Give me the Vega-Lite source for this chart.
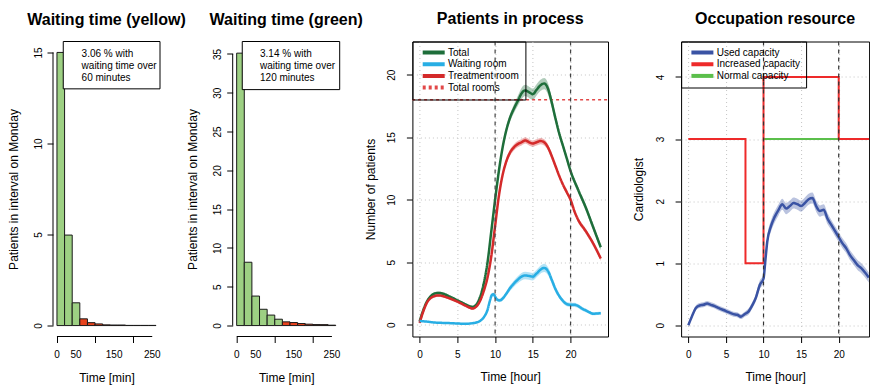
{
  "$schema": "https://vega.github.io/schema/vega-lite/v6.json",
  "padding": {"left": 7, "top": 10.5, "right": 0, "bottom": 0},
  "background": "white",
  "spacing": 72.7,
  "bounds": "flush",
  "resolve": {
    "scale": {"color": "independent", "fill": "independent", "strokeDash": "independent"},
    "legend": {"color": "independent", "fill": "independent", "strokeDash": "independent"}
  },
  "config": {
    "font": "Liberation Sans",
    "title": {"fontSize": 16, "fontWeight": "bold", "anchor": "middle", "color": "#000", "frame": "group", "baseline": "alphabetic", "offset": 13.5},
    "axis": {"labelFontSize": 10, "labelColor": "#000", "titleFontSize": 12, "titleFontWeight": "normal", "titleColor": "#000", "tickColor": "#000", "tickSize": 6, "domain": false, "grid": false, "labelOverlap": false},
    "axisY": {"labelAngle": 270, "labelAlign": "center", "labelBaseline": "bottom"},
    "axisX": {"labelPadding": 7, "titlePadding": 12},
    "view": {"stroke": null}
  },
  "datasets": {
    "hy": [
      {"start": 0, "end": 20, "n": 15.0, "over": "no"},
      {"start": 20, "end": 40, "n": 4.97, "over": "no"},
      {"start": 40, "end": 60, "n": 1.25, "over": "no"},
      {"start": 60, "end": 80, "n": 0.37, "over": "yes"},
      {"start": 80, "end": 100, "n": 0.16, "over": "yes"},
      {"start": 100, "end": 120, "n": 0.09, "over": "yes"},
      {"start": 120, "end": 140, "n": 0.04, "over": "yes"},
      {"start": 140, "end": 160, "n": 0.03, "over": "yes"},
      {"start": 160, "end": 180, "n": 0.03, "over": "yes"},
      {"start": 180, "end": 200, "n": 0.01, "over": "yes"},
      {"start": 200, "end": 220, "n": 0.01, "over": "yes"},
      {"start": 220, "end": 240, "n": 0.01, "over": "yes"},
      {"start": 240, "end": 260, "n": 0.01, "over": "yes"}
    ],
    "hg": [
      {"start": 0, "end": 20, "n": 35.1, "over": "no"},
      {"start": 20, "end": 40, "n": 8.16, "over": "no"},
      {"start": 40, "end": 60, "n": 3.8, "over": "no"},
      {"start": 60, "end": 80, "n": 2.1, "over": "no"},
      {"start": 80, "end": 100, "n": 1.35, "over": "no"},
      {"start": 100, "end": 120, "n": 0.82, "over": "no"},
      {"start": 120, "end": 140, "n": 0.48, "over": "yes"},
      {"start": 140, "end": 160, "n": 0.39, "over": "yes"},
      {"start": 160, "end": 180, "n": 0.26, "over": "yes"},
      {"start": 180, "end": 200, "n": 0.18, "over": "yes"},
      {"start": 200, "end": 220, "n": 0.13, "over": "yes"},
      {"start": 220, "end": 240, "n": 0.12, "over": "yes"},
      {"start": 240, "end": 260, "n": 0.05, "over": "yes"}
    ],
    "minlabels": [
      {"t": 0},
      {"t": 50},
      {"t": 150},
      {"t": 250}
    ],
    "proc": [
      {"s": "Total", "h": 0, "v": 0.27, "lo": 0.15, "hi": 0.39},
      {"s": "Total", "h": 0.5, "v": 1.2, "lo": 1.08, "hi": 1.32},
      {"s": "Total", "h": 1, "v": 1.9, "lo": 1.78, "hi": 2.02},
      {"s": "Total", "h": 1.5, "v": 2.3, "lo": 2.18, "hi": 2.42},
      {"s": "Total", "h": 2, "v": 2.5, "lo": 2.38, "hi": 2.62},
      {"s": "Total", "h": 2.5, "v": 2.55, "lo": 2.43, "hi": 2.67},
      {"s": "Total", "h": 3, "v": 2.5, "lo": 2.38, "hi": 2.62},
      {"s": "Total", "h": 4, "v": 2.25, "lo": 2.13, "hi": 2.37},
      {"s": "Total", "h": 5, "v": 1.95, "lo": 1.83, "hi": 2.07},
      {"s": "Total", "h": 6, "v": 1.65, "lo": 1.53, "hi": 1.77},
      {"s": "Total", "h": 6.5, "v": 1.5, "lo": 1.38, "hi": 1.62},
      {"s": "Total", "h": 7, "v": 1.42, "lo": 1.3, "hi": 1.54},
      {"s": "Total", "h": 7.5, "v": 1.6, "lo": 1.48, "hi": 1.72},
      {"s": "Total", "h": 8, "v": 2.2, "lo": 2.05, "hi": 2.35},
      {"s": "Total", "h": 8.5, "v": 3.3, "lo": 3.12, "hi": 3.48},
      {"s": "Total", "h": 9, "v": 5.0, "lo": 4.8, "hi": 5.2},
      {"s": "Total", "h": 9.5, "v": 7.5, "lo": 7.3, "hi": 7.7},
      {"s": "Total", "h": 10, "v": 10.0, "lo": 9.8, "hi": 10.2},
      {"s": "Total", "h": 10.5, "v": 12.3, "lo": 12.1, "hi": 12.5},
      {"s": "Total", "h": 11, "v": 14.2, "lo": 13.95, "hi": 14.45},
      {"s": "Total", "h": 11.5, "v": 15.6, "lo": 15.3, "hi": 15.9},
      {"s": "Total", "h": 12, "v": 16.6, "lo": 16.3, "hi": 16.9},
      {"s": "Total", "h": 12.5, "v": 17.3, "lo": 16.95, "hi": 17.65},
      {"s": "Total", "h": 13, "v": 17.9, "lo": 17.5, "hi": 18.3},
      {"s": "Total", "h": 13.5, "v": 18.5, "lo": 18.05, "hi": 18.95},
      {"s": "Total", "h": 14, "v": 18.75, "lo": 18.3, "hi": 19.2},
      {"s": "Total", "h": 14.5, "v": 18.6, "lo": 18.15, "hi": 19.05},
      {"s": "Total", "h": 15, "v": 18.45, "lo": 18.0, "hi": 18.9},
      {"s": "Total", "h": 15.5, "v": 18.8, "lo": 18.35, "hi": 19.25},
      {"s": "Total", "h": 16, "v": 19.15, "lo": 18.7, "hi": 19.6},
      {"s": "Total", "h": 16.5, "v": 19.3, "lo": 18.85, "hi": 19.75},
      {"s": "Total", "h": 17, "v": 18.9, "lo": 18.45, "hi": 19.35},
      {"s": "Total", "h": 17.5, "v": 17.8, "lo": 17.4, "hi": 18.2},
      {"s": "Total", "h": 18, "v": 16.5, "lo": 16.15, "hi": 16.85},
      {"s": "Total", "h": 18.5, "v": 15.3, "lo": 15.0, "hi": 15.6},
      {"s": "Total", "h": 19, "v": 14.3, "lo": 14.05, "hi": 14.55},
      {"s": "Total", "h": 19.5, "v": 13.3, "lo": 13.05, "hi": 13.55},
      {"s": "Total", "h": 20, "v": 12.3, "lo": 12.05, "hi": 12.55},
      {"s": "Total", "h": 21, "v": 10.8, "lo": 10.55, "hi": 11.05},
      {"s": "Total", "h": 22, "v": 9.4, "lo": 9.15, "hi": 9.65},
      {"s": "Total", "h": 23, "v": 7.8, "lo": 7.55, "hi": 8.05},
      {"s": "Total", "h": 24, "v": 6.2, "lo": 5.95, "hi": 6.45},
      {"s": "Treatment room", "h": 0, "v": 0.15, "lo": 0.05, "hi": 0.25},
      {"s": "Treatment room", "h": 0.5, "v": 1.1, "lo": 1.0, "hi": 1.2},
      {"s": "Treatment room", "h": 1, "v": 1.8, "lo": 1.7, "hi": 1.9},
      {"s": "Treatment room", "h": 1.5, "v": 2.15, "lo": 2.05, "hi": 2.25},
      {"s": "Treatment room", "h": 2, "v": 2.3, "lo": 2.2, "hi": 2.4},
      {"s": "Treatment room", "h": 2.5, "v": 2.35, "lo": 2.25, "hi": 2.45},
      {"s": "Treatment room", "h": 3, "v": 2.3, "lo": 2.2, "hi": 2.4},
      {"s": "Treatment room", "h": 4, "v": 2.1, "lo": 2.0, "hi": 2.2},
      {"s": "Treatment room", "h": 5, "v": 1.85, "lo": 1.75, "hi": 1.95},
      {"s": "Treatment room", "h": 6, "v": 1.55, "lo": 1.45, "hi": 1.65},
      {"s": "Treatment room", "h": 6.5, "v": 1.4, "lo": 1.3, "hi": 1.5},
      {"s": "Treatment room", "h": 7, "v": 1.3, "lo": 1.2, "hi": 1.4},
      {"s": "Treatment room", "h": 7.5, "v": 1.45, "lo": 1.35, "hi": 1.55},
      {"s": "Treatment room", "h": 8, "v": 1.9, "lo": 1.8, "hi": 2.0},
      {"s": "Treatment room", "h": 8.5, "v": 2.7, "lo": 2.55, "hi": 2.85},
      {"s": "Treatment room", "h": 9, "v": 3.8, "lo": 3.65, "hi": 3.95},
      {"s": "Treatment room", "h": 9.5, "v": 5.5, "lo": 5.3, "hi": 5.7},
      {"s": "Treatment room", "h": 10, "v": 7.9, "lo": 7.7, "hi": 8.1},
      {"s": "Treatment room", "h": 10.5, "v": 10.3, "lo": 10.1, "hi": 10.5},
      {"s": "Treatment room", "h": 11, "v": 12.0, "lo": 11.8, "hi": 12.2},
      {"s": "Treatment room", "h": 11.5, "v": 13.1, "lo": 12.85, "hi": 13.35},
      {"s": "Treatment room", "h": 12, "v": 13.8, "lo": 13.55, "hi": 14.05},
      {"s": "Treatment room", "h": 12.5, "v": 14.2, "lo": 13.95, "hi": 14.45},
      {"s": "Treatment room", "h": 13, "v": 14.45, "lo": 14.2, "hi": 14.7},
      {"s": "Treatment room", "h": 13.5, "v": 14.6, "lo": 14.35, "hi": 14.85},
      {"s": "Treatment room", "h": 14, "v": 14.75, "lo": 14.5, "hi": 15.0},
      {"s": "Treatment room", "h": 14.5, "v": 14.6, "lo": 14.35, "hi": 14.85},
      {"s": "Treatment room", "h": 15, "v": 14.5, "lo": 14.25, "hi": 14.75},
      {"s": "Treatment room", "h": 15.5, "v": 14.6, "lo": 14.35, "hi": 14.85},
      {"s": "Treatment room", "h": 16, "v": 14.7, "lo": 14.45, "hi": 14.95},
      {"s": "Treatment room", "h": 16.5, "v": 14.6, "lo": 14.35, "hi": 14.85},
      {"s": "Treatment room", "h": 17, "v": 14.2, "lo": 13.95, "hi": 14.45},
      {"s": "Treatment room", "h": 17.5, "v": 13.5, "lo": 13.25, "hi": 13.75},
      {"s": "Treatment room", "h": 18, "v": 12.7, "lo": 12.5, "hi": 12.9},
      {"s": "Treatment room", "h": 18.5, "v": 11.9, "lo": 11.7, "hi": 12.1},
      {"s": "Treatment room", "h": 19, "v": 11.2, "lo": 11.0, "hi": 11.4},
      {"s": "Treatment room", "h": 19.5, "v": 10.6, "lo": 10.4, "hi": 10.8},
      {"s": "Treatment room", "h": 20, "v": 10.0, "lo": 9.8, "hi": 10.2},
      {"s": "Treatment room", "h": 20.5, "v": 9.1, "lo": 8.9, "hi": 9.3},
      {"s": "Treatment room", "h": 21, "v": 8.4, "lo": 8.2, "hi": 8.6},
      {"s": "Treatment room", "h": 22, "v": 7.5, "lo": 7.3, "hi": 7.7},
      {"s": "Treatment room", "h": 23, "v": 6.5, "lo": 6.3, "hi": 6.7},
      {"s": "Treatment room", "h": 24, "v": 5.3, "lo": 5.1, "hi": 5.5},
      {"s": "Waiting room", "h": 0, "v": 0.3, "lo": 0.24, "hi": 0.36},
      {"s": "Waiting room", "h": 1, "v": 0.25, "lo": 0.19, "hi": 0.31},
      {"s": "Waiting room", "h": 2, "v": 0.18, "lo": 0.12, "hi": 0.24},
      {"s": "Waiting room", "h": 3, "v": 0.15, "lo": 0.09, "hi": 0.21},
      {"s": "Waiting room", "h": 4, "v": 0.13, "lo": 0.07, "hi": 0.19},
      {"s": "Waiting room", "h": 5, "v": 0.1, "lo": 0.04, "hi": 0.16},
      {"s": "Waiting room", "h": 6, "v": 0.08, "lo": 0.02, "hi": 0.14},
      {"s": "Waiting room", "h": 7, "v": 0.12, "lo": 0.06, "hi": 0.18},
      {"s": "Waiting room", "h": 7.5, "v": 0.18, "lo": 0.12, "hi": 0.24},
      {"s": "Waiting room", "h": 8, "v": 0.3, "lo": 0.22, "hi": 0.38},
      {"s": "Waiting room", "h": 8.5, "v": 0.6, "lo": 0.5, "hi": 0.7},
      {"s": "Waiting room", "h": 9, "v": 1.2, "lo": 1.08, "hi": 1.32},
      {"s": "Waiting room", "h": 9.3, "v": 1.9, "lo": 1.78, "hi": 2.02},
      {"s": "Waiting room", "h": 9.6, "v": 2.4, "lo": 2.26, "hi": 2.54},
      {"s": "Waiting room", "h": 9.8, "v": 2.45, "lo": 2.31, "hi": 2.59},
      {"s": "Waiting room", "h": 10, "v": 2.25, "lo": 2.11, "hi": 2.39},
      {"s": "Waiting room", "h": 10.3, "v": 2.0, "lo": 1.86, "hi": 2.14},
      {"s": "Waiting room", "h": 10.6, "v": 1.95, "lo": 1.81, "hi": 2.09},
      {"s": "Waiting room", "h": 11, "v": 2.1, "lo": 1.95, "hi": 2.25},
      {"s": "Waiting room", "h": 11.5, "v": 2.5, "lo": 2.32, "hi": 2.68},
      {"s": "Waiting room", "h": 12, "v": 2.95, "lo": 2.72, "hi": 3.18},
      {"s": "Waiting room", "h": 12.5, "v": 3.3, "lo": 3.05, "hi": 3.55},
      {"s": "Waiting room", "h": 13, "v": 3.6, "lo": 3.32, "hi": 3.88},
      {"s": "Waiting room", "h": 13.5, "v": 3.85, "lo": 3.55, "hi": 4.15},
      {"s": "Waiting room", "h": 14, "v": 3.95, "lo": 3.65, "hi": 4.25},
      {"s": "Waiting room", "h": 14.5, "v": 3.9, "lo": 3.6, "hi": 4.2},
      {"s": "Waiting room", "h": 15, "v": 3.85, "lo": 3.55, "hi": 4.15},
      {"s": "Waiting room", "h": 15.5, "v": 4.1, "lo": 3.8, "hi": 4.4},
      {"s": "Waiting room", "h": 16, "v": 4.4, "lo": 4.08, "hi": 4.72},
      {"s": "Waiting room", "h": 16.5, "v": 4.55, "lo": 4.22, "hi": 4.88},
      {"s": "Waiting room", "h": 17, "v": 4.3, "lo": 3.98, "hi": 4.62},
      {"s": "Waiting room", "h": 17.5, "v": 3.6, "lo": 3.3, "hi": 3.9},
      {"s": "Waiting room", "h": 18, "v": 2.85, "lo": 2.6, "hi": 3.1},
      {"s": "Waiting room", "h": 18.5, "v": 2.3, "lo": 2.1, "hi": 2.5},
      {"s": "Waiting room", "h": 19, "v": 1.9, "lo": 1.72, "hi": 2.08},
      {"s": "Waiting room", "h": 19.5, "v": 1.65, "lo": 1.48, "hi": 1.82},
      {"s": "Waiting room", "h": 20, "v": 1.6, "lo": 1.43, "hi": 1.77},
      {"s": "Waiting room", "h": 20.5, "v": 1.6, "lo": 1.43, "hi": 1.77},
      {"s": "Waiting room", "h": 21, "v": 1.5, "lo": 1.34, "hi": 1.66},
      {"s": "Waiting room", "h": 21.5, "v": 1.3, "lo": 1.15, "hi": 1.45},
      {"s": "Waiting room", "h": 22, "v": 1.15, "lo": 1.0, "hi": 1.3},
      {"s": "Waiting room", "h": 22.5, "v": 1.0, "lo": 0.87, "hi": 1.13},
      {"s": "Waiting room", "h": 23, "v": 0.88, "lo": 0.76, "hi": 1.0},
      {"s": "Waiting room", "h": 23.5, "v": 0.9, "lo": 0.78, "hi": 1.02},
      {"s": "Waiting room", "h": 24, "v": 0.92, "lo": 0.8, "hi": 1.04}
    ],
    "rooms": [
      {"s": "Total rooms", "h": -1, "v": 18},
      {"s": "Total rooms", "h": 25, "v": 18}
    ],
    "shifts": [
      {"h": 10},
      {"h": 20}
    ],
    "used": [
      {"s": "Used capacity", "h": 0, "v": 0.0, "lo": -0.02, "hi": 0.02},
      {"s": "Used capacity", "h": 0.5, "v": 0.15, "lo": 0.12, "hi": 0.18},
      {"s": "Used capacity", "h": 1, "v": 0.28, "lo": 0.24, "hi": 0.32},
      {"s": "Used capacity", "h": 1.5, "v": 0.32, "lo": 0.28, "hi": 0.36},
      {"s": "Used capacity", "h": 2, "v": 0.33, "lo": 0.29, "hi": 0.37},
      {"s": "Used capacity", "h": 2.5, "v": 0.35, "lo": 0.31, "hi": 0.39},
      {"s": "Used capacity", "h": 3, "v": 0.33, "lo": 0.29, "hi": 0.37},
      {"s": "Used capacity", "h": 3.5, "v": 0.31, "lo": 0.27, "hi": 0.35},
      {"s": "Used capacity", "h": 4, "v": 0.28, "lo": 0.24, "hi": 0.32},
      {"s": "Used capacity", "h": 5, "v": 0.23, "lo": 0.19, "hi": 0.27},
      {"s": "Used capacity", "h": 6, "v": 0.18, "lo": 0.14, "hi": 0.22},
      {"s": "Used capacity", "h": 6.5, "v": 0.17, "lo": 0.13, "hi": 0.21},
      {"s": "Used capacity", "h": 7, "v": 0.14, "lo": 0.1, "hi": 0.18},
      {"s": "Used capacity", "h": 7.5, "v": 0.18, "lo": 0.14, "hi": 0.22},
      {"s": "Used capacity", "h": 8, "v": 0.22, "lo": 0.17, "hi": 0.27},
      {"s": "Used capacity", "h": 8.5, "v": 0.32, "lo": 0.27, "hi": 0.37},
      {"s": "Used capacity", "h": 9, "v": 0.45, "lo": 0.39, "hi": 0.51},
      {"s": "Used capacity", "h": 9.5, "v": 0.65, "lo": 0.58, "hi": 0.72},
      {"s": "Used capacity", "h": 10, "v": 0.75, "lo": 0.68, "hi": 0.82},
      {"s": "Used capacity", "h": 10.25, "v": 1.05, "lo": 0.97, "hi": 1.13},
      {"s": "Used capacity", "h": 10.5, "v": 1.35, "lo": 1.27, "hi": 1.43},
      {"s": "Used capacity", "h": 11, "v": 1.6, "lo": 1.51, "hi": 1.69},
      {"s": "Used capacity", "h": 11.5, "v": 1.75, "lo": 1.66, "hi": 1.84},
      {"s": "Used capacity", "h": 12, "v": 1.86, "lo": 1.77, "hi": 1.95},
      {"s": "Used capacity", "h": 12.5, "v": 1.95, "lo": 1.86, "hi": 2.04},
      {"s": "Used capacity", "h": 13, "v": 1.88, "lo": 1.79, "hi": 1.97},
      {"s": "Used capacity", "h": 13.5, "v": 1.92, "lo": 1.83, "hi": 2.01},
      {"s": "Used capacity", "h": 14, "v": 1.97, "lo": 1.88, "hi": 2.06},
      {"s": "Used capacity", "h": 14.5, "v": 1.95, "lo": 1.86, "hi": 2.04},
      {"s": "Used capacity", "h": 15, "v": 1.92, "lo": 1.83, "hi": 2.01},
      {"s": "Used capacity", "h": 15.5, "v": 1.97, "lo": 1.88, "hi": 2.06},
      {"s": "Used capacity", "h": 16, "v": 2.03, "lo": 1.94, "hi": 2.12},
      {"s": "Used capacity", "h": 16.5, "v": 2.05, "lo": 1.96, "hi": 2.14},
      {"s": "Used capacity", "h": 17, "v": 1.92, "lo": 1.83, "hi": 2.01},
      {"s": "Used capacity", "h": 17.5, "v": 1.84, "lo": 1.75, "hi": 1.93},
      {"s": "Used capacity", "h": 18, "v": 1.86, "lo": 1.77, "hi": 1.95},
      {"s": "Used capacity", "h": 18.5, "v": 1.72, "lo": 1.63, "hi": 1.81},
      {"s": "Used capacity", "h": 19, "v": 1.62, "lo": 1.54, "hi": 1.7},
      {"s": "Used capacity", "h": 19.5, "v": 1.52, "lo": 1.44, "hi": 1.6},
      {"s": "Used capacity", "h": 20, "v": 1.42, "lo": 1.34, "hi": 1.5},
      {"s": "Used capacity", "h": 20.5, "v": 1.32, "lo": 1.24, "hi": 1.4},
      {"s": "Used capacity", "h": 21, "v": 1.24, "lo": 1.16, "hi": 1.32},
      {"s": "Used capacity", "h": 21.5, "v": 1.13, "lo": 1.05, "hi": 1.21},
      {"s": "Used capacity", "h": 22, "v": 1.05, "lo": 0.97, "hi": 1.13},
      {"s": "Used capacity", "h": 22.5, "v": 0.97, "lo": 0.89, "hi": 1.05},
      {"s": "Used capacity", "h": 23, "v": 0.92, "lo": 0.84, "hi": 1.0},
      {"s": "Used capacity", "h": 23.5, "v": 0.85, "lo": 0.77, "hi": 0.93},
      {"s": "Used capacity", "h": 24, "v": 0.77, "lo": 0.69, "hi": 0.85}
    ],
    "cap": [
      {"s": "Normal capacity", "h": 10, "c": 3},
      {"s": "Normal capacity", "h": 20, "c": 3},
      {"s": "Increased capacity", "h": 0, "c": 3},
      {"s": "Increased capacity", "h": 7.6, "c": 1},
      {"s": "Increased capacity", "h": 10, "c": 4},
      {"s": "Increased capacity", "h": 20, "c": 3},
      {"s": "Increased capacity", "h": 24.2, "c": 3}
    ]
  },
  "hconcat": [
    {
      "width": 107, "height": 295,
      "title": "Waiting time (yellow)",
      "layer": [
        {
          "data": {"name": "hy"},
          "mark": {"type": "rect", "stroke": "#1a1a1a", "strokeWidth": 1},
          "encoding": {
            "x": {"field": "start", "type": "quantitative", "scale": {"domain": [-10.4, 270.4], "nice": false, "zero": false},
                  "axis": {"values": [0, 50, 100, 150, 200, 250], "labels": false, "title": "Time [min]", "titlePadding": 29.8}},
            "x2": {"field": "end"},
            "y": {"field": "n", "type": "quantitative", "scale": {"domain": [-0.6, 15.6], "nice": false},
                  "axis": {"values": [0, 5, 10, 15], "title": "Patients in interval on Monday", "labelPadding": 4, "titlePadding": 13}},
            "y2": {"datum": 0},
            "color": {"field": "over", "type": "nominal", "scale": {"domain": ["no", "yes"], "range": ["#9dd083", "#e8421c"]}, "legend": null}
          }
        },
        {
          "data": {"name": "minlabels"},
          "mark": {"type": "text", "baseline": "top", "align": "center", "fontSize": 10, "color": "#000"},
          "encoding": {"x": {"field": "t", "type": "quantitative"}, "y": {"datum": -1.357}, "text": {"field": "t", "type": "quantitative"}}
        },
        {
          "data": {"values": [{"pct": 3.06, "limit": 60}]},
          "mark": {"type": "rule", "color": "#000", "strokeWidth": 1},
          "encoding": {"x": {"datum": 0}, "x2": {"datum": 250}, "y": {"datum": -0.6}}
        },
        {
          "data": {"values": [{"pct": 3.06, "limit": 60}]},
          "mark": {"type": "rule", "color": "#000", "strokeWidth": 1},
          "encoding": {"y": {"datum": 0}, "y2": {"datum": 15}, "x": {"datum": -10.4}}
        },
        {
          "data": {"values": [{"pct": 3.06, "limit": 60}]},
          "mark": {"type": "rect", "fill": "white", "stroke": "#000", "strokeWidth": 1},
          "encoding": {"x": {"datum": 16.5}, "x2": {"datum": 270.4}, "y": {"datum": 15.6}, "y2": {"datum": 13.0}}
        },
        {
          "data": {"values": [{"pct": 3.06, "limit": 60}]},
          "mark": {"type": "text", "text": ["3.06 % with", "waiting time over", "60 minutes"], "align": "left", "baseline": "middle", "fontSize": 10, "lineHeight": 12.2, "color": "#000"},
          "encoding": {"x": {"datum": 64.7}, "y": {"datum": 14.93}}
        }
      ]
    },
    {
      "width": 107, "height": 295,
      "title": "Waiting time (green)",
      "layer": [
        {
          "data": {"name": "hg"},
          "mark": {"type": "rect", "stroke": "#1a1a1a", "strokeWidth": 1},
          "encoding": {
            "x": {"field": "start", "type": "quantitative", "scale": {"domain": [-10.4, 270.4], "nice": false, "zero": false},
                  "axis": {"values": [0, 50, 100, 150, 200, 250], "labels": false, "title": "Time [min]", "titlePadding": 29.8}},
            "x2": {"field": "end"},
            "y": {"field": "n", "type": "quantitative", "scale": {"domain": [-1.408, 36.6], "nice": false},
                  "axis": {"values": [0, 5, 10, 15, 20, 25, 30, 35], "title": "Patients in interval on Monday", "labelPadding": 4, "titlePadding": 13}},
            "y2": {"datum": 0},
            "color": {"field": "over", "type": "nominal", "scale": {"domain": ["no", "yes"], "range": ["#9dd083", "#e8421c"]}, "legend": null}
          }
        },
        {
          "data": {"name": "minlabels"},
          "mark": {"type": "text", "baseline": "top", "align": "center", "fontSize": 10, "color": "#000"},
          "encoding": {"x": {"field": "t", "type": "quantitative"}, "y": {"datum": -3.18}, "text": {"field": "t", "type": "quantitative"}}
        },
        {
          "data": {"values": [{"pct": 3.14, "limit": 120}]},
          "mark": {"type": "rule", "color": "#000", "strokeWidth": 1},
          "encoding": {"x": {"datum": 0}, "x2": {"datum": 250}, "y": {"datum": -1.408}}
        },
        {
          "data": {"values": [{"pct": 3.14, "limit": 120}]},
          "mark": {"type": "rule", "color": "#000", "strokeWidth": 1},
          "encoding": {"y": {"datum": 0}, "y2": {"datum": 35}, "x": {"datum": -10.4}}
        },
        {
          "data": {"values": [{"pct": 3.14, "limit": 120}]},
          "mark": {"type": "rect", "fill": "white", "stroke": "#000", "strokeWidth": 1},
          "encoding": {"x": {"datum": 14.7}, "x2": {"datum": 270.4}, "y": {"datum": 36.6}, "y2": {"datum": 30.4}}
        },
        {
          "data": {"values": [{"pct": 3.14, "limit": 120}]},
          "mark": {"type": "text", "text": ["3.14 % with", "waiting time over", "120 minutes"], "align": "left", "baseline": "middle", "fontSize": 10, "lineHeight": 12.2, "color": "#000"},
          "encoding": {"x": {"datum": 61.3}, "y": {"datum": 35.0}}
        }
      ]
    },
    {
      "width": 195.6, "height": 295,
      "title": "Patients in process",
      "view": {"stroke": "#000", "strokeWidth": 1},
      "layer": [
        {
          "data": {"name": "proc"},
          "mark": {"type": "area", "interpolate": "monotone", "fillOpacity": 0.35},
          "encoding": {
            "x": {"field": "h", "type": "quantitative", "scale": {"domain": [-0.96, 24.96], "nice": false, "zero": false},
                  "axis": {"values": [0, 5, 10, 15, 20], "title": "Time [hour]", "grid": true, "gridDash": [1, 3], "gridColor": "#c4c4c4"}},
            "y": {"field": "lo", "type": "quantitative", "scale": {"domain": [-0.94, 22.66], "nice": false, "zero": false},
                  "axis": {"values": [0, 5, 10, 15, 20], "title": "Number of patients", "grid": true, "gridDash": [1, 3], "gridColor": "#c4c4c4", "labelPadding": 9.5, "titlePadding": 9}},
            "y2": {"field": "hi"},
            "fill": {"field": "s", "type": "nominal", "scale": {"domain": ["Total", "Waiting room", "Treatment room"], "range": ["#1e6e3a", "#28aee4", "#d42a2a"]}, "legend": null}
          }
        },
        {
          "data": {"name": "rooms"},
          "mark": {"type": "line", "strokeWidth": 1.3, "clip": true},
          "encoding": {
            "x": {"field": "h", "type": "quantitative"},
            "y": {"field": "v", "type": "quantitative"},
            "color": {"field": "s", "type": "nominal", "scale": {"domain": ["Total", "Waiting room", "Treatment room", "Total rooms"], "range": ["#1e6e3a", "#28aee4", "#d42a2a", "#e24848"]},
                      "legend": {"title": null, "orient": "top-left", "offset": 0, "strokeColor": "#000", "padding": 6, "labelFontSize": 10, "labelColor": "#000", "symbolType": "M-7.33,0H7.33", "symbolSize": 9, "symbolStrokeWidth": 4, "clipHeight": 10, "rowPadding": 1.7, "symbolOffset": 10.3, "labelOffset": 9.3, "cornerRadius": 0, "labelLimit": 200}},
            "strokeDash": {"field": "s", "type": "nominal", "scale": {"domain": ["Total", "Waiting room", "Treatment room", "Total rooms"], "range": [[1, 0], [1, 0], [1, 0], [3, 3]]},
                      "legend": {"title": null, "orient": "top-left", "offset": 0, "strokeColor": "#000", "padding": 6, "labelFontSize": 10, "labelColor": "#000", "symbolType": "M-7.33,0H7.33", "symbolSize": 9, "symbolStrokeWidth": 4, "clipHeight": 10, "rowPadding": 1.7, "symbolOffset": 10.3, "labelOffset": 9.3, "cornerRadius": 0, "labelLimit": 200}}
          }
        },
        {
          "data": {"name": "proc"},
          "mark": {"type": "line", "interpolate": "monotone", "strokeWidth": 2.5},
          "encoding": {
            "x": {"field": "h", "type": "quantitative"},
            "y": {"field": "v", "type": "quantitative"},
            "color": {"field": "s", "type": "nominal"},
            "strokeDash": {"field": "s", "type": "nominal"}
          }
        },
        {
          "data": {"name": "shifts"},
          "mark": {"type": "rule", "strokeDash": [4, 4], "color": "#444", "strokeWidth": 1.2},
          "encoding": {"x": {"field": "h", "type": "quantitative"}}
        }
      ]
    },
    {
      "width": 188, "height": 295,
      "title": "Occupation resource",
      "view": {"stroke": "#000", "strokeWidth": 1},
      "layer": [
        {
          "data": {"name": "used"},
          "mark": {"type": "area", "interpolate": "monotone", "fill": "#3a53a4", "fillOpacity": 0.35},
          "encoding": {
            "x": {"field": "h", "type": "quantitative", "scale": {"domain": [-0.96, 24.04], "nice": false, "zero": false},
                  "axis": {"values": [0, 5, 10, 15, 20], "title": "Time [hour]", "grid": true, "gridDash": [1, 3], "gridColor": "#c4c4c4"}},
            "y": {"field": "lo", "type": "quantitative", "scale": {"domain": [-0.18, 4.57], "nice": false, "zero": false},
                  "axis": {"values": [0, 1, 2, 3, 4], "format": "d", "title": "Cardiologist", "grid": true, "gridDash": [1, 3], "gridColor": "#c4c4c4", "labelPadding": 9.5, "titlePadding": 10}},
            "y2": {"field": "hi"}
          }
        },
        {
          "data": {"name": "cap"},
          "transform": [{"filter": "datum.s == 'Normal capacity'"}],
          "mark": {"type": "line", "interpolate": "step-after", "strokeWidth": 2, "clip": true},
          "encoding": {
            "x": {"field": "h", "type": "quantitative"},
            "y": {"field": "c", "type": "quantitative"},
            "color": {"field": "s", "type": "nominal", "scale": {"domain": ["Used capacity", "Increased capacity", "Normal capacity"], "range": ["#3a53a4", "#ee2a2a", "#5bbf4b"]},
                      "legend": {"title": null, "orient": "top-left", "offset": 0, "strokeColor": "#000", "padding": 6, "labelFontSize": 10, "labelColor": "#000", "symbolType": "M-7.33,0H7.33", "symbolSize": 9, "symbolStrokeWidth": 4, "clipHeight": 10, "rowPadding": 1.7, "symbolOffset": 10.3, "labelOffset": 9.3, "cornerRadius": 0, "labelLimit": 200}}
          }
        },
        {
          "data": {"name": "cap"},
          "transform": [{"filter": "datum.s == 'Increased capacity'"}],
          "mark": {"type": "line", "interpolate": "step-after", "strokeWidth": 2, "clip": true},
          "encoding": {
            "x": {"field": "h", "type": "quantitative"},
            "y": {"field": "c", "type": "quantitative"},
            "color": {"field": "s", "type": "nominal"}
          }
        },
        {
          "data": {"name": "used"},
          "mark": {"type": "line", "interpolate": "monotone", "strokeWidth": 2.5, "clip": true},
          "encoding": {
            "x": {"field": "h", "type": "quantitative"},
            "y": {"field": "v", "type": "quantitative"},
            "color": {"field": "s", "type": "nominal"}
          }
        },
        {
          "data": {"name": "shifts"},
          "mark": {"type": "rule", "strokeDash": [4, 4], "color": "#333", "strokeWidth": 1.2},
          "encoding": {"x": {"field": "h", "type": "quantitative"}}
        }
      ]
    }
  ]
}
